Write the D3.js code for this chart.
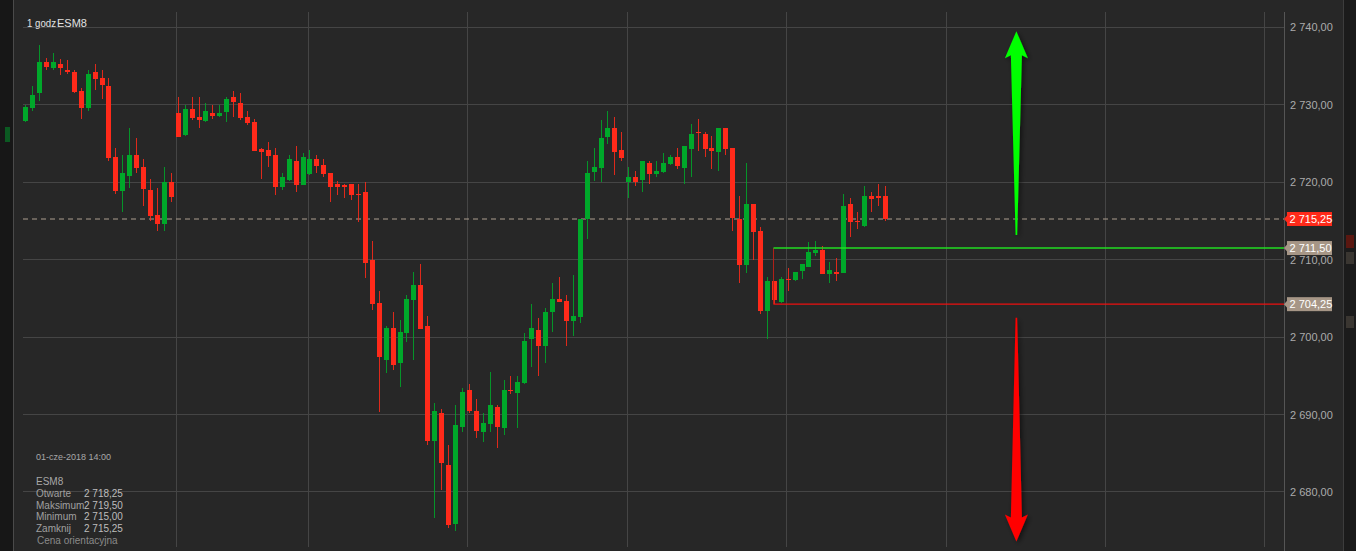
<!DOCTYPE html>
<html>
<head>
<meta charset="utf-8">
<script src="https://cdn.jsdelivr.net/npm/d3@7"></script>
<style>
  body { margin: 0; background: #272727; }
  svg { display: block; font-family: "Liberation Sans", Arial, sans-serif; }
</style>
</head>
<body>
<div id="chart"></div>
<script>
// ESM8, 1 hour bars
let opens = [2727.9, 2729.6, 2731.5, 2735.5, 2734.7, 2735.3, 2734.5, 2734.2, 2731.8, 2729.6,
  2734.2, 2733.5, 2732.4, 2723.3, 2718.9, 2720.8, 2723.5, 2722.0, 2719.0, 2715.8,
  2714.6, 2720.0, 2728.9, 2726.1, 2729.5, 2728.4, 2727.9, 2728.9, 2728.6, 2729.1,
  2731.0, 2730.2, 2728.4, 2727.8, 2724.3, 2724.1, 2723.5, 2719.4, 2720.3, 2722.8,
  2719.7, 2721.1, 2723.0, 2722.2, 2721.2, 2719.8, 2719.6, 2719.8, 2718.5, 2718.7,
  2710.0, 2704.4, 2697.1, 2701.2, 2696.6, 2700.5, 2704.8, 2706.7, 2701.4, 2686.6,
  2690.2, 2683.5, 2675.9, 2688.4, 2693.2, 2690.5, 2687.7, 2688.8, 2691.0, 2688.2,
  2693.2, 2692.8, 2694.1, 2699.7, 2700.9, 2698.9, 2703.2, 2704.9, 2704.7, 2702.1,
  2702.6, 2715.2, 2721.3, 2721.8, 2725.8, 2727.0, 2724.2, 2720.0, 2720.7, 2720.3,
  2722.5, 2721.1, 2721.3, 2722.4, 2723.3, 2721.8, 2724.3, 2726.5, 2726.2, 2724.4,
  2723.9, 2727.0, 2724.4, 2715.3, 2709.3, 2717.2, 2713.7, 2703.4, 2707.3, 2704.5,
  2707.5, 2707.4, 2708.5, 2709.1, 2710.9, 2711.3, 2708.2, 2708.4, 2708.3, 2717.2,
  2715.0, 2714.4, 2718.2, 2718.25, 2718.25];
let highs = [2730.0, 2732.4, 2737.7, 2736.1, 2736.7, 2735.9, 2735.8, 2734.5, 2732.2, 2734.5,
  2735.3, 2734.5, 2733.5, 2724.4, 2723.5, 2727.0, 2725.7, 2723.0, 2720.4, 2719.3,
  2722.0, 2721.2, 2731.0, 2730.0, 2731.0, 2731.0, 2730.2, 2730.0, 2730.0, 2731.0,
  2731.8, 2731.5, 2729.2, 2728.2, 2724.4, 2725.2, 2724.4, 2721.2, 2723.5, 2724.7,
  2723.8, 2724.2, 2723.5, 2723.0, 2721.2, 2720.1, 2719.8, 2719.8, 2719.8, 2720.0,
  2712.4, 2706.0, 2701.4, 2703.3, 2702.2, 2705.4, 2708.4, 2709.5, 2702.7, 2691.5,
  2690.7, 2686.0, 2691.2, 2693.4, 2694.0, 2692.0, 2690.2, 2695.5, 2691.2, 2694.5,
  2695.0, 2695.0, 2700.5, 2704.3, 2702.5, 2703.8, 2707.0, 2707.8, 2705.4, 2708.0,
  2715.3, 2722.8, 2724.4, 2728.0, 2729.2, 2728.4, 2726.5, 2722.0, 2721.5, 2722.8,
  2722.8, 2722.8, 2723.8, 2723.5, 2724.4, 2724.7, 2727.5, 2728.2, 2726.5, 2726.0,
  2727.0, 2727.0, 2724.4, 2718.2, 2722.5, 2717.2, 2714.2, 2707.8, 2707.3, 2707.8,
  2708.9, 2708.4, 2709.5, 2712.3, 2712.4, 2711.8, 2709.7, 2710.2, 2718.5, 2718.0,
  2716.2, 2719.5, 2718.7, 2719.8, 2719.5];
let lows = [2727.8, 2729.2, 2730.5, 2734.5, 2734.5, 2733.8, 2734.0, 2731.5, 2728.2, 2729.2,
  2731.9, 2730.8, 2722.8, 2718.5, 2716.2, 2719.3, 2721.2, 2716.9, 2715.0, 2713.7,
  2713.7, 2717.5, 2725.8, 2726.0, 2728.0, 2727.0, 2727.8, 2728.2, 2728.4, 2727.8,
  2728.4, 2728.0, 2727.4, 2724.0, 2720.4, 2722.0, 2718.3, 2719.0, 2720.1, 2718.8,
  2719.6, 2720.9, 2721.2, 2720.7, 2717.5, 2718.3, 2718.0, 2717.7, 2714.8, 2707.6,
  2703.5, 2690.3, 2695.3, 2695.8, 2693.5, 2699.3, 2697.0, 2701.0, 2686.0, 2676.6,
  2680.3, 2675.3, 2675.0, 2687.8, 2690.2, 2687.0, 2686.5, 2687.8, 2685.7, 2687.3,
  2692.7, 2688.3, 2694.0, 2696.1, 2695.0, 2696.7, 2700.7, 2704.5, 2698.8, 2700.1,
  2701.8, 2712.7, 2720.2, 2720.0, 2724.9, 2720.9, 2722.8, 2718.0, 2719.5, 2718.7,
  2719.8, 2720.7, 2721.2, 2722.2, 2721.7, 2719.8, 2720.7, 2724.0, 2723.3, 2721.7,
  2721.5, 2723.5, 2713.7, 2707.0, 2708.3, 2710.0, 2703.0, 2699.8, 2704.3, 2704.4,
  2706.0, 2707.3, 2707.5, 2709.1, 2710.5, 2708.2, 2707.0, 2707.3, 2708.3, 2712.9,
  2714.0, 2714.2, 2716.2, 2716.9, 2715.0];
let closes = [2729.7, 2731.3, 2735.5, 2734.9, 2735.5, 2734.7, 2734.2, 2731.7, 2729.6, 2734.0,
  2733.3, 2732.6, 2723.1, 2718.9, 2721.2, 2723.5, 2721.8, 2719.1, 2715.6, 2714.6,
  2720.0, 2718.1, 2725.8, 2729.5, 2728.3, 2728.0, 2729.2, 2728.6, 2728.9, 2730.8,
  2730.4, 2728.3, 2727.7, 2724.0, 2723.9, 2723.4, 2719.4, 2720.7, 2723.0, 2719.7,
  2723.3, 2723.0, 2722.1, 2721.1, 2719.4, 2719.4, 2719.4, 2718.4, 2718.4, 2709.6,
  2704.3, 2697.4, 2701.2, 2696.4, 2700.7, 2704.9, 2706.7, 2701.1, 2686.6, 2690.5,
  2683.7, 2675.7, 2688.7, 2692.9, 2690.4, 2687.9, 2688.9, 2691.2, 2688.4, 2693.2,
  2693.1, 2694.2, 2699.5, 2701.2, 2698.9, 2703.3, 2704.9, 2704.5, 2702.1, 2702.7,
  2715.3, 2721.2, 2722.0, 2725.7, 2727.0, 2723.9, 2723.1, 2720.7, 2720.0, 2722.8,
  2721.1, 2721.5, 2722.5, 2723.3, 2722.1, 2724.7, 2726.2, 2726.4, 2724.3, 2724.0,
  2727.0, 2724.3, 2715.4, 2709.3, 2717.2, 2713.6, 2703.4, 2707.3, 2704.8, 2707.5,
  2707.4, 2708.4, 2709.5, 2711.0, 2711.3, 2708.2, 2708.7, 2708.2, 2716.9, 2714.9,
  2714.8, 2718.2, 2717.8, 2718.0, 2715.25];

let priceTicks = [2680, 2690, 2700, 2710, 2720, 2730, 2740];
let gridBars = [23, 42, 65, 88, 111, 134, 157, 180];   // time grid, bar numbers
let lastPrice = 2715.25;
let levelUp = 2711.50;
let levelDown = 2704.25;
let levelStartBar = 109;
let infoDate = "01-cze-2018 14:00";
let infoSymbol = "ESM8";
let infoLabels = ["Otwarte", "Maksimum", "Minimum", "Zamknij"];
let infoValues = [2718.25, 2719.50, 2715.00, 2715.25];
let arrowBar = 144;
let arrowUp = [2713.2, 2739.5];     // tail, tip
let arrowDown = [2702.5, 2673.6];   // tail, tip

const width = 1356, height = 551;
const plotLeft = 23, axisX = 1284, plotTop = 12;
const red = "#ff2a1a", green = "#00a82a";

let bars = opens.map(function(o, i) {
    return {n: i + 1, o: o, h: highs[i], l: lows[i], c: closes[i]};
});

let x = d3.scaleLinear().domain([1, 125]).range([25.3, 884.7]);
let y = d3.scaleLinear().domain([2680, 2740]).range([491.9, 27.4]);

let loc = d3.formatLocale({decimal: ",", thousands: " ", grouping: [3], currency: ["", ""]});
let fmt = loc.format(",.2f");

let svg = d3.select("#chart")
    .append("svg")
    .attr("width", width)
    .attr("height", height);

let defs = svg.append("defs");
defs.append("filter")
    .attr("id", "shadow")
    .attr("x", "-50%").attr("y", "-10%").attr("width", "200%").attr("height", "120%")
    .append("feDropShadow")
    .attr("dx", 2).attr("dy", 2).attr("stdDeviation", 2.5)
    .attr("flood-color", "#000").attr("flood-opacity", 0.55);

svg.append("rect")
    .attr("width", width).attr("height", height)
    .attr("fill", "#272727");

// side strips (neighbouring panels)
svg.append("rect").attr("x", 0).attr("y", 0).attr("width", 13).attr("height", height).attr("fill", "#171717");
svg.append("line").attr("x1", 13.5).attr("x2", 13.5).attr("y1", 0).attr("y2", height).attr("stroke", "#4a4a4a");
svg.append("rect").attr("x", 5).attr("y", 127).attr("width", 5).attr("height", 15).attr("fill", "#0b5a22");
svg.append("rect").attr("x", 1343).attr("y", 0).attr("width", 13).attr("height", height).attr("fill", "#1b1b1b");
svg.append("line").attr("x1", 1343.5).attr("x2", 1343.5).attr("y1", 0).attr("y2", height).attr("stroke", "#3c3c3c");
svg.append("rect").attr("x", 1346).attr("y", 235).attr("width", 8).attr("height", 13).attr("fill", "#5a1710");
svg.append("rect").attr("x", 1346).attr("y", 252).attr("width", 8).attr("height", 12).attr("fill", "#3a3631");
svg.append("rect").attr("x", 1346).attr("y", 316).attr("width", 8).attr("height", 12).attr("fill", "#3a3631");

// grid
let grid = svg.append("g").attr("shape-rendering", "crispEdges");
grid.selectAll(".hgrid")
    .data(priceTicks)
    .enter().append("line")
    .attr("x1", plotLeft).attr("x2", axisX)
    .attr("y1", function(d) { return y(d); })
    .attr("y2", function(d) { return y(d); })
    .attr("stroke", "#454545");
grid.selectAll(".vgrid")
    .data(gridBars)
    .enter().append("line")
    .attr("x1", function(d) { return x(d) - 1; })
    .attr("x2", function(d) { return x(d) - 1; })
    .attr("y1", plotTop).attr("y2", 547)
    .attr("stroke", "#454545");
grid.append("line")
    .attr("x1", axisX).attr("x2", axisX)
    .attr("y1", plotTop).attr("y2", height)
    .attr("stroke", "#555");

// last price dashed line
svg.append("line")
    .attr("x1", plotLeft).attr("x2", axisX)
    .attr("y1", y(lastPrice)).attr("y2", y(lastPrice))
    .attr("stroke", "#ad9f90")
    .attr("stroke-dasharray", "5,4");

// candles
let candles = svg.append("g").attr("shape-rendering", "crispEdges");
candles.selectAll(".wick")
    .data(bars)
    .enter().append("line")
    .attr("x1", function(d) { return Math.round(x(d.n)) + 0.5; })
    .attr("x2", function(d) { return Math.round(x(d.n)) + 0.5; })
    .attr("y1", function(d) { return y(d.h); })
    .attr("y2", function(d) { return y(d.l); })
    .attr("stroke", function(d) { return d.c >= d.o ? green : red; })
    .attr("stroke-opacity", 0.85);
candles.selectAll(".body")
    .data(bars)
    .enter().append("rect")
    .attr("x", function(d) { return Math.round(x(d.n)) - 2; })
    .attr("width", 5)
    .attr("y", function(d) { return y(Math.max(d.o, d.c)); })
    .attr("height", function(d) { return Math.max(1, Math.abs(y(d.o) - y(d.c))); })
    .attr("fill", function(d) { return d.c >= d.o ? green : red; });

// support / resistance levels
let lx = Math.round(x(levelStartBar)) - 0.5;
svg.append("line")
    .attr("x1", lx).attr("x2", lx)
    .attr("y1", y(levelUp)).attr("y2", y(levelDown))
    .attr("stroke", "#b02018");
svg.append("line")
    .attr("x1", lx).attr("x2", axisX)
    .attr("y1", y(levelUp)).attr("y2", y(levelUp))
    .attr("stroke", "#22dd22").attr("stroke-width", 1.4);
svg.append("line")
    .attr("x1", lx).attr("x2", axisX)
    .attr("y1", y(levelDown)).attr("y2", y(levelDown))
    .attr("stroke", "#ee1111").attr("stroke-width", 1.4);

// arrows
function arrowPath(cx, yTail, yTip) {
    let dir = yTip < yTail ? 1 : -1;   // 1 = pointing up
    let hb = yTip + dir * 26, sb = yTip + dir * 24;
    return "M" + cx + "," + yTip +
        "L" + (cx + 11.5) + "," + (hb + dir) +
        "L" + (cx + 5.5) + "," + sb +
        "L" + (cx + 0.8) + "," + yTail +
        "L" + (cx - 0.8) + "," + yTail +
        "L" + (cx - 5.5) + "," + sb +
        "L" + (cx - 11.5) + "," + (hb + dir) + "Z";
}
svg.append("path")
    .attr("d", arrowPath(x(arrowBar), y(arrowUp[0]), y(arrowUp[1])))
    .attr("fill", "#00ff00")
    .attr("filter", "url(#shadow)");
svg.append("path")
    .attr("d", arrowPath(x(arrowBar), y(arrowDown[0]), y(arrowDown[1])))
    .attr("fill", "#ff0000")
    .attr("filter", "url(#shadow)");

// price axis
let axis = svg.append("g")
    .attr("transform", `translate(${axisX}, 0)`)
    .call(d3.axisRight(y).tickValues(priceTicks).tickFormat(fmt).tickSize(0).tickPadding(6));
axis.select(".domain").remove();
axis.selectAll("text")
    .attr("fill", "#ababab")
    .style("font-size", "11px")
    .style("font-family", "'Liberation Sans', Arial, sans-serif");

// price flags
let flags = [
    {v: lastPrice, fill: red},
    {v: levelUp, fill: "#a69686"},
    {v: levelDown, fill: "#a69686"}
];
let flag = svg.selectAll(".flag")
    .data(flags)
    .enter().append("g")
    .attr("transform", function(d) { return `translate(${axisX}, ${y(d.v)})`; });
flag.append("path")
    .attr("d", "M0,0L3.5,-4L3.5,4Z")
    .attr("fill", function(d) { return d.fill; });
flag.append("rect")
    .attr("x", 3).attr("y", -7)
    .attr("width", 45).attr("height", 14)
    .attr("fill", function(d) { return d.fill; });
flag.append("text")
    .attr("x", 5.5).attr("dy", "0.36em")
    .attr("fill", "#fff")
    .style("font-size", "11px")
    .text(function(d) { return fmt(d.v); });

// title
svg.append("text")
    .attr("x", 27).attr("y", 27)
    .attr("fill", "#e2e2e2").style("font-size", "10.5px")
    .attr("textLength", 29).attr("lengthAdjust", "spacingAndGlyphs")
    .text("1 godz");
svg.append("text")
    .attr("x", 57).attr("y", 27)
    .attr("fill", "#e2e2e2").style("font-size", "11px")
    .text("ESM8");

// info box
let info = svg.append("g").style("font-size", "9px");
info.append("text").attr("x", 36).attr("y", 460).attr("fill", "#a8a8a8").text(infoDate);
info.append("text").attr("x", 36).attr("y", 485).attr("fill", "#a8a8a8").style("font-size", "10px").text(infoSymbol);
infoLabels.forEach(function(lab, i) {
    info.append("text")
        .attr("x", 36).attr("y", 497 + i * 11.7)
        .attr("fill", "#a0a0a0").style("font-size", "10px")
        .text(lab);
    info.append("text")
        .attr("x", 84).attr("y", 497 + i * 11.7)
        .attr("fill", "#bdbdbd").style("font-size", "10px")
        .text(fmt(infoValues[i]));
});
info.append("text").attr("x", 37).attr("y", 544).attr("fill", "#8a8a8a").style("font-size", "10px").text("Cena orientacyjna");
</script>
</body>
</html>
